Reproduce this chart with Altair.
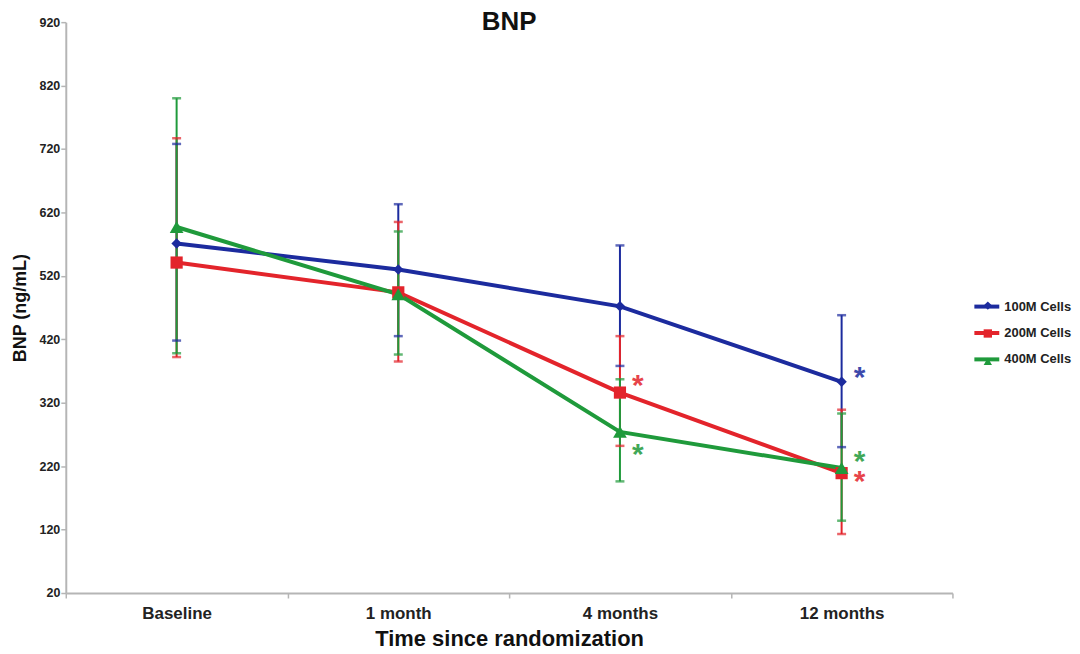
import altair as alt
import pandas as pd

categories = ["Baseline", "1 month", "4 months", "12 months"]
series_names = ["100M Cells", "200M Cells", "400M Cells"]
series_colors = ["#1c2b9e", "#e3242b", "#1f9a3b"]
series_shapes = ["diamond", "square", "triangle-up"]
series_sizes = [110, 190, 170]

mean_100 = [571, 530, 472, 353]
lo_100 = [418, 425, 378, 250]
hi_100 = [728, 633, 568, 458]

mean_200 = [541, 494, 336, 209]
lo_200 = [392, 385, 252, 113]
hi_200 = [737, 605, 425, 309]

mean_400 = [597, 491, 274, 217]
lo_400 = [398, 396, 196, 134]
hi_400 = [800, 590, 357, 303]

star_series = ["100M Cells", "200M Cells", "400M Cells", "400M Cells", "200M Cells"]
star_time = ["12 months", "4 months", "4 months", "12 months", "12 months"]
star_y = [367, 354, 246, 235, 203]

y_ticks = [20, 120, 220, 320, 420, 520, 620, 720, 820, 920]

rows = []
for name, m, lo, hi in [
    ("100M Cells", mean_100, lo_100, hi_100),
    ("200M Cells", mean_200, lo_200, hi_200),
    ("400M Cells", mean_400, lo_400, hi_400),
]:
    for t, mv, l, h in zip(categories, m, lo, hi):
        rows.append({"time": t, "series": name, "mean": mv, "lo": l, "hi": h})
df = pd.DataFrame(rows)
stars = pd.DataFrame({"time": star_time, "series": star_series, "y": star_y})

FONT = "Liberation Sans"
cscale = alt.Scale(domain=series_names, range=series_colors)
yscale = alt.Scale(domain=[20, 920], nice=False, zero=False)

x = alt.X(
    "time:N",
    sort=categories,
    scale=alt.Scale(domain=categories, paddingInner=0, paddingOuter=0),
    axis=alt.Axis(
        title="Time since randomization",
        labelAngle=0,
        tickBand="extent",
        tickSize=5,
        labelPadding=8,
        labelFontSize=17,
        titleFontSize=22,
        titlePadding=7,
    ),
)
y_axis = alt.Axis(
    title="BNP (ng/mL)",
    values=y_ticks,
    tickSize=5,
    labelPadding=1,
    labelFontSize=12.5,
    titleFontSize=18,
    titlePadding=10,
    grid=False,
)

base = alt.Chart(df)

rules = base.mark_rule(strokeWidth=2).encode(
    x=x,
    y=alt.Y("lo:Q", scale=yscale, axis=y_axis),
    y2="hi:Q",
    color=alt.Color("series:N", scale=cscale, legend=None),
)
ticks_lo = base.mark_tick(thickness=2.5, size=9).encode(
    x=x, y=alt.Y("lo:Q", scale=yscale), color=alt.Color("series:N", scale=cscale, legend=None)
)
ticks_hi = base.mark_tick(thickness=2.5, size=9).encode(
    x=x, y=alt.Y("hi:Q", scale=yscale), color=alt.Color("series:N", scale=cscale, legend=None)
)

line_legend = alt.Legend(
    title=None,
    orient="none",
    legendX=910,
    legendY=271,
    symbolType="stroke",
    symbolSize=625,
    symbolStrokeWidth=4,
    labelOffset=3,
    rowPadding=3.5,
    labelFontSize=13,
)
lines = base.mark_line(strokeWidth=4).encode(
    x=x,
    y=alt.Y("mean:Q", scale=yscale),
    color=alt.Color("series:N", scale=cscale, legend=line_legend),
)

point_legend = alt.Legend(
    title=None,
    orient="none",
    legendX=919,
    legendY=278,
    symbolSize=70,
    symbolStrokeWidth=0,
    labelOpacity=0,
    labelExpr="''",
    rowPadding=14,
    labelFontSize=13,
)
points = base.mark_point(filled=True, opacity=1).encode(
    x=x,
    y=alt.Y("mean:Q", scale=yscale),
    color=alt.Color("series:N", scale=cscale, legend=point_legend),
    shape=alt.Shape("series:N", scale=alt.Scale(domain=series_names, range=series_shapes), legend=point_legend),
    size=alt.Size("series:N", scale=alt.Scale(domain=series_names, range=series_sizes), legend=None),
)

star_text = alt.Chart(stars).mark_text(
    text="*", font=FONT, fontSize=30, fontWeight="bold", dx=18, dy=14, baseline="alphabetic", opacity=0.85
).encode(
    x=x,
    y=alt.Y("y:Q", scale=yscale),
    color=alt.Color("series:N", scale=cscale, legend=None),
)

chart = (
    alt.layer(rules, ticks_lo, ticks_hi, lines, points, star_text)
    .resolve_legend(color="independent", shape="independent")
    .properties(
        width=890,
        height=573,
        autosize=alt.AutoSizeParams(type="pad"),
        padding={"left": 3, "top": 0, "right": 0, "bottom": 0},
        title=alt.TitleParams(
            "BNP", font=FONT, fontSize=26, fontWeight="bold", color="#111111",
            anchor="middle", baseline="bottom", offset=-45,
        ),
    )
    .configure_view(strokeWidth=0)
    .configure_axis(
        labelFont=FONT,
        labelFontWeight="bold",
        labelColor="#222222",
        titleFont=FONT,
        titleFontWeight="bold",
        titleColor="#111111",
        domainColor="#b5b5b5",
        domainWidth=2,
        tickColor="#b5b5b5",
        tickWidth=1.5,
    )
    .configure_legend(labelFont=FONT, labelFontWeight="bold", labelColor="#222222")
)

chart.save("out.html", embed_options={"renderer": "svg", "actions": False})
